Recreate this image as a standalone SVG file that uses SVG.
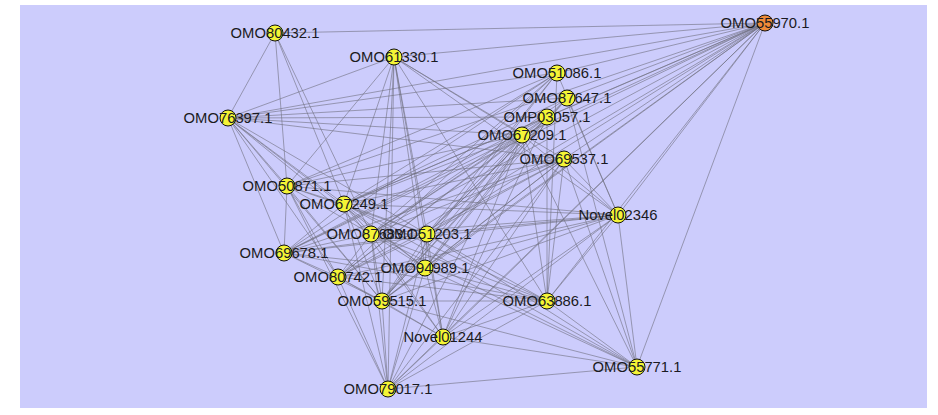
<svg xmlns="http://www.w3.org/2000/svg" width="938" height="415" viewBox="0 0 938 415">
<style>
.bg{fill:#ccccfc}
.e line{stroke:#6e6e7e;stroke-width:0.8;stroke-opacity:0.75}
.n{fill:#f4f436;stroke:#111;stroke-width:1}
.hub{fill:#ee8a38;stroke:#111;stroke-width:1}
.t{font-family:"Liberation Sans",Arial,sans-serif;font-size:14.8px;fill:#1a1a22;text-anchor:middle;dominant-baseline:central}
</style>
<rect width="938" height="415" fill="#ffffff"/>
<rect class="bg" x="20" y="5" width="907" height="403"/>
<g id="connectors" class="e">
<line x1="765" y1="23" x2="275" y2="33"/>
<line x1="765" y1="23" x2="394" y2="57"/>
<line x1="765" y1="23" x2="557" y2="73"/>
<line x1="765" y1="23" x2="567" y2="98"/>
<line x1="765" y1="23" x2="547" y2="117"/>
<line x1="765" y1="23" x2="228" y2="118"/>
<line x1="765" y1="23" x2="522" y2="135"/>
<line x1="765" y1="23" x2="564" y2="159"/>
<line x1="765" y1="23" x2="287" y2="186"/>
<line x1="765" y1="23" x2="344" y2="204"/>
<line x1="765" y1="23" x2="618" y2="215"/>
<line x1="765" y1="23" x2="371" y2="234"/>
<line x1="765" y1="23" x2="427" y2="234"/>
<line x1="765" y1="23" x2="284" y2="253"/>
<line x1="765" y1="23" x2="425" y2="268"/>
<line x1="765" y1="23" x2="338" y2="277"/>
<line x1="765" y1="23" x2="382" y2="301"/>
<line x1="765" y1="23" x2="547" y2="301"/>
<line x1="765" y1="23" x2="443" y2="337"/>
<line x1="765" y1="23" x2="637" y2="367"/>
<line x1="765" y1="23" x2="388" y2="389"/>
<line x1="275" y1="33" x2="228" y2="118"/>
<line x1="275" y1="33" x2="287" y2="186"/>
<line x1="275" y1="33" x2="344" y2="204"/>
<line x1="275" y1="33" x2="371" y2="234"/>
<line x1="394" y1="57" x2="228" y2="118"/>
<line x1="394" y1="57" x2="287" y2="186"/>
<line x1="394" y1="57" x2="344" y2="204"/>
<line x1="394" y1="57" x2="371" y2="234"/>
<line x1="394" y1="57" x2="427" y2="234"/>
<line x1="394" y1="57" x2="425" y2="268"/>
<line x1="394" y1="57" x2="382" y2="301"/>
<line x1="394" y1="57" x2="443" y2="337"/>
<line x1="394" y1="57" x2="388" y2="389"/>
<line x1="394" y1="57" x2="522" y2="135"/>
<line x1="394" y1="57" x2="564" y2="159"/>
<line x1="394" y1="57" x2="618" y2="215"/>
<line x1="394" y1="57" x2="547" y2="301"/>
<line x1="557" y1="73" x2="228" y2="118"/>
<line x1="557" y1="73" x2="344" y2="204"/>
<line x1="557" y1="73" x2="371" y2="234"/>
<line x1="557" y1="73" x2="427" y2="234"/>
<line x1="557" y1="73" x2="338" y2="277"/>
<line x1="557" y1="73" x2="382" y2="301"/>
<line x1="557" y1="73" x2="284" y2="253"/>
<line x1="557" y1="73" x2="547" y2="301"/>
<line x1="557" y1="73" x2="618" y2="215"/>
<line x1="557" y1="73" x2="287" y2="186"/>
<line x1="567" y1="98" x2="228" y2="118"/>
<line x1="567" y1="98" x2="344" y2="204"/>
<line x1="567" y1="98" x2="371" y2="234"/>
<line x1="567" y1="98" x2="427" y2="234"/>
<line x1="567" y1="98" x2="382" y2="301"/>
<line x1="567" y1="98" x2="618" y2="215"/>
<line x1="567" y1="98" x2="637" y2="367"/>
<line x1="567" y1="98" x2="425" y2="268"/>
<line x1="547" y1="117" x2="228" y2="118"/>
<line x1="547" y1="117" x2="344" y2="204"/>
<line x1="547" y1="117" x2="371" y2="234"/>
<line x1="547" y1="117" x2="427" y2="234"/>
<line x1="547" y1="117" x2="425" y2="268"/>
<line x1="547" y1="117" x2="382" y2="301"/>
<line x1="547" y1="117" x2="443" y2="337"/>
<line x1="547" y1="117" x2="284" y2="253"/>
<line x1="547" y1="117" x2="338" y2="277"/>
<line x1="547" y1="117" x2="547" y2="301"/>
<line x1="228" y1="118" x2="522" y2="135"/>
<line x1="228" y1="118" x2="564" y2="159"/>
<line x1="228" y1="118" x2="344" y2="204"/>
<line x1="228" y1="118" x2="371" y2="234"/>
<line x1="228" y1="118" x2="427" y2="234"/>
<line x1="228" y1="118" x2="284" y2="253"/>
<line x1="228" y1="118" x2="338" y2="277"/>
<line x1="228" y1="118" x2="382" y2="301"/>
<line x1="228" y1="118" x2="425" y2="268"/>
<line x1="228" y1="118" x2="287" y2="186"/>
<line x1="522" y1="135" x2="344" y2="204"/>
<line x1="522" y1="135" x2="371" y2="234"/>
<line x1="522" y1="135" x2="427" y2="234"/>
<line x1="522" y1="135" x2="425" y2="268"/>
<line x1="522" y1="135" x2="338" y2="277"/>
<line x1="522" y1="135" x2="382" y2="301"/>
<line x1="522" y1="135" x2="443" y2="337"/>
<line x1="522" y1="135" x2="388" y2="389"/>
<line x1="522" y1="135" x2="287" y2="186"/>
<line x1="522" y1="135" x2="284" y2="253"/>
<line x1="522" y1="135" x2="547" y2="301"/>
<line x1="522" y1="135" x2="637" y2="367"/>
<line x1="522" y1="135" x2="618" y2="215"/>
<line x1="564" y1="159" x2="344" y2="204"/>
<line x1="564" y1="159" x2="371" y2="234"/>
<line x1="564" y1="159" x2="427" y2="234"/>
<line x1="564" y1="159" x2="382" y2="301"/>
<line x1="564" y1="159" x2="425" y2="268"/>
<line x1="564" y1="159" x2="338" y2="277"/>
<line x1="564" y1="159" x2="443" y2="337"/>
<line x1="564" y1="159" x2="388" y2="389"/>
<line x1="564" y1="159" x2="618" y2="215"/>
<line x1="564" y1="159" x2="547" y2="301"/>
<line x1="564" y1="159" x2="637" y2="367"/>
<line x1="564" y1="159" x2="284" y2="253"/>
<line x1="564" y1="159" x2="287" y2="186"/>
<line x1="287" y1="186" x2="344" y2="204"/>
<line x1="287" y1="186" x2="371" y2="234"/>
<line x1="287" y1="186" x2="427" y2="234"/>
<line x1="287" y1="186" x2="284" y2="253"/>
<line x1="287" y1="186" x2="338" y2="277"/>
<line x1="287" y1="186" x2="382" y2="301"/>
<line x1="287" y1="186" x2="388" y2="389"/>
<line x1="287" y1="186" x2="618" y2="215"/>
<line x1="344" y1="204" x2="618" y2="215"/>
<line x1="344" y1="204" x2="371" y2="234"/>
<line x1="344" y1="204" x2="427" y2="234"/>
<line x1="344" y1="204" x2="425" y2="268"/>
<line x1="344" y1="204" x2="382" y2="301"/>
<line x1="344" y1="204" x2="547" y2="301"/>
<line x1="344" y1="204" x2="443" y2="337"/>
<line x1="344" y1="204" x2="637" y2="367"/>
<line x1="344" y1="204" x2="388" y2="389"/>
<line x1="344" y1="204" x2="284" y2="253"/>
<line x1="618" y1="215" x2="371" y2="234"/>
<line x1="618" y1="215" x2="427" y2="234"/>
<line x1="618" y1="215" x2="425" y2="268"/>
<line x1="618" y1="215" x2="338" y2="277"/>
<line x1="618" y1="215" x2="382" y2="301"/>
<line x1="618" y1="215" x2="547" y2="301"/>
<line x1="618" y1="215" x2="443" y2="337"/>
<line x1="618" y1="215" x2="637" y2="367"/>
<line x1="618" y1="215" x2="388" y2="389"/>
<line x1="618" y1="215" x2="284" y2="253"/>
<line x1="371" y1="234" x2="427" y2="234"/>
<line x1="371" y1="234" x2="338" y2="277"/>
<line x1="371" y1="234" x2="382" y2="301"/>
<line x1="371" y1="234" x2="547" y2="301"/>
<line x1="371" y1="234" x2="388" y2="389"/>
<line x1="371" y1="234" x2="443" y2="337"/>
<line x1="371" y1="234" x2="637" y2="367"/>
<line x1="371" y1="234" x2="284" y2="253"/>
<line x1="371" y1="234" x2="425" y2="268"/>
<line x1="427" y1="234" x2="425" y2="268"/>
<line x1="427" y1="234" x2="338" y2="277"/>
<line x1="427" y1="234" x2="382" y2="301"/>
<line x1="427" y1="234" x2="547" y2="301"/>
<line x1="427" y1="234" x2="443" y2="337"/>
<line x1="427" y1="234" x2="388" y2="389"/>
<line x1="427" y1="234" x2="284" y2="253"/>
<line x1="427" y1="234" x2="637" y2="367"/>
<line x1="284" y1="253" x2="338" y2="277"/>
<line x1="284" y1="253" x2="382" y2="301"/>
<line x1="284" y1="253" x2="425" y2="268"/>
<line x1="284" y1="253" x2="547" y2="301"/>
<line x1="425" y1="268" x2="338" y2="277"/>
<line x1="425" y1="268" x2="382" y2="301"/>
<line x1="425" y1="268" x2="547" y2="301"/>
<line x1="425" y1="268" x2="443" y2="337"/>
<line x1="425" y1="268" x2="388" y2="389"/>
<line x1="425" y1="268" x2="637" y2="367"/>
<line x1="338" y1="277" x2="382" y2="301"/>
<line x1="338" y1="277" x2="388" y2="389"/>
<line x1="338" y1="277" x2="547" y2="301"/>
<line x1="338" y1="277" x2="443" y2="337"/>
<line x1="382" y1="301" x2="547" y2="301"/>
<line x1="382" y1="301" x2="443" y2="337"/>
<line x1="382" y1="301" x2="388" y2="389"/>
<line x1="382" y1="301" x2="637" y2="367"/>
<line x1="547" y1="301" x2="443" y2="337"/>
<line x1="547" y1="301" x2="637" y2="367"/>
<line x1="547" y1="301" x2="388" y2="389"/>
<line x1="443" y1="337" x2="388" y2="389"/>
<line x1="443" y1="337" x2="637" y2="367"/>
<line x1="637" y1="367" x2="388" y2="389"/>
</g>
<g id="n-OMO80432"><circle class="n" cx="275" cy="33" r="8"/><text class="t" x="275" y="33">OMO80432.1</text></g>
<g id="n-OMO61330"><circle class="n" cx="394" cy="57" r="8"/><text class="t" x="394" y="57">OMO61330.1</text></g>
<g id="n-OMO55970"><circle class="hub" cx="765" cy="23" r="8"/><text class="t" x="765" y="23">OMO55970.1</text></g>
<g id="n-OMO51086"><circle class="n" cx="557" cy="73" r="8"/><text class="t" x="557" y="73">OMO51086.1</text></g>
<g id="n-OMO87647"><circle class="n" cx="567" cy="98" r="8"/><text class="t" x="567" y="98">OMO87647.1</text></g>
<g id="n-OMP03057"><circle class="n" cx="547" cy="117" r="8"/><text class="t" x="547" y="117">OMP03057.1</text></g>
<g id="n-OMO76397"><circle class="n" cx="228" cy="118" r="8"/><text class="t" x="228" y="118">OMO76397.1</text></g>
<g id="n-OMO67209"><circle class="n" cx="522" cy="135" r="8"/><text class="t" x="522" y="135">OMO67209.1</text></g>
<g id="n-OMO69537"><circle class="n" cx="564" cy="159" r="8"/><text class="t" x="564" y="159">OMO69537.1</text></g>
<g id="n-OMO50871"><circle class="n" cx="287" cy="186" r="8"/><text class="t" x="287" y="186">OMO50871.1</text></g>
<g id="n-OMO67249"><circle class="n" cx="344" cy="204" r="8"/><text class="t" x="344" y="204">OMO67249.1</text></g>
<g id="n-Novel02346"><circle class="n" cx="618" cy="215" r="8"/><text class="t" x="618" y="215">Novel02346</text></g>
<g id="n-OMO87683"><circle class="n" cx="371" cy="234" r="8"/><text class="t" x="371" y="234">OMO87683.1</text></g>
<g id="n-OMO51203"><circle class="n" cx="427" cy="234" r="8"/><text class="t" x="427" y="234">OMO51203.1</text></g>
<g id="n-OMO69678"><circle class="n" cx="284" cy="253" r="8"/><text class="t" x="284" y="253">OMO69678.1</text></g>
<g id="n-OMO94989"><circle class="n" cx="425" cy="268" r="8"/><text class="t" x="425" y="268">OMO94989.1</text></g>
<g id="n-OMO80742"><circle class="n" cx="338" cy="277" r="8"/><text class="t" x="338" y="277">OMO80742.1</text></g>
<g id="n-OMO59515"><circle class="n" cx="382" cy="301" r="8"/><text class="t" x="382" y="301">OMO59515.1</text></g>
<g id="n-OMO63886"><circle class="n" cx="547" cy="301" r="8"/><text class="t" x="547" y="301">OMO63886.1</text></g>
<g id="n-Novel01244"><circle class="n" cx="443" cy="337" r="8"/><text class="t" x="443" y="337">Novel01244</text></g>
<g id="n-OMO55771"><circle class="n" cx="637" cy="367" r="8"/><text class="t" x="637" y="367">OMO55771.1</text></g>
<g id="n-OMO79017"><circle class="n" cx="388" cy="389" r="8"/><text class="t" x="388" y="389">OMO79017.1</text></g>
</svg>
